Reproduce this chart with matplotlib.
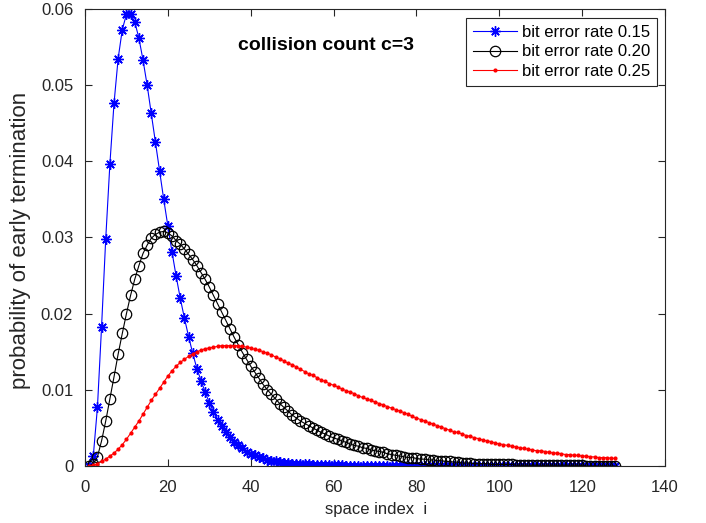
import numpy as np
import matplotlib
matplotlib.use("Agg")
import matplotlib.pyplot as plt

plt.rcParams['font.family'] = ['Liberation Sans', 'DejaVu Sans']

# space index i = 1..128
space_index = list(range(1, 129))

# bit error rate 0.15
ber_015 = [
    0.0000, 0.0013, 0.0077, 0.0183, 0.0298, 0.0396, 0.0476, 0.0535, 0.0573, 0.0593,
    0.0594, 0.0583, 0.0562, 0.0533, 0.0500, 0.0463, 0.0425, 0.0387, 0.0350, 0.0315,
    0.0281, 0.0249, 0.0220, 0.0194, 0.0170, 0.0148, 0.0128, 0.0112, 0.0097, 0.0083,
    0.0071, 0.0061, 0.0052, 0.0044, 0.0038, 0.0032, 0.0027, 0.0023, 0.0019, 0.0016,
    0.0014, 0.0012, 0.0010, 0.0008, 0.0007, 0.0006, 0.0005, 0.0004, 0.0004, 0.0003,
    0.0003, 0.0002, 0.0002, 0.0002, 0.0001, 0.0001, 0.0001, 0.0001, 0.0001, 0.0001,
    0.0001, 0.0001, 0.0000, 0.0000, 0.0000, 0.0000, 0.0000, 0.0000, 0.0000, 0.0000,
    0.0000, 0.0000, 0.0000, 0.0000, 0.0000, 0.0000, 0.0000, 0.0000, 0.0000, 0.0000,
    0.0000, 0.0000, 0.0000, 0.0000, 0.0000, 0.0000, 0.0000, 0.0000, 0.0000, 0.0000,
    0.0000, 0.0000, 0.0000, 0.0000, 0.0000, 0.0000, 0.0000, 0.0000, 0.0000, 0.0000,
    0.0000, 0.0000, 0.0000, 0.0000, 0.0000, 0.0000, 0.0000, 0.0000, 0.0000, 0.0000,
    0.0000, 0.0000, 0.0000, 0.0000, 0.0000, 0.0000, 0.0000, 0.0000, 0.0000, 0.0000,
    0.0000, 0.0000, 0.0000, 0.0000, 0.0000, 0.0000, 0.0000, 0.0000,
]

# bit error rate 0.20
ber_020 = [
    0.0000, 0.0003, 0.0012, 0.0033, 0.0059, 0.0088, 0.0117, 0.0147, 0.0174, 0.0200,
    0.0224, 0.0245, 0.0263, 0.0279, 0.0290, 0.0299, 0.0304, 0.0307, 0.0308, 0.0306,
    0.0302, 0.0296, 0.0291, 0.0285, 0.0278, 0.0271, 0.0263, 0.0254, 0.0245, 0.0235,
    0.0224, 0.0213, 0.0202, 0.0191, 0.0180, 0.0169, 0.0159, 0.0149, 0.0140, 0.0131,
    0.0123, 0.0115, 0.0107, 0.0100, 0.0094, 0.0088, 0.0082, 0.0077, 0.0072, 0.0067,
    0.0063, 0.0059, 0.0056, 0.0053, 0.0050, 0.0047, 0.0044, 0.0042, 0.0039, 0.0037,
    0.0035, 0.0033, 0.0031, 0.0029, 0.0027, 0.0026, 0.0024, 0.0023, 0.0021, 0.0020,
    0.0019, 0.0018, 0.0016, 0.0015, 0.0014, 0.0013, 0.0012, 0.0011, 0.0011, 0.0010,
    0.0009, 0.0009, 0.0008, 0.0008, 0.0007, 0.0007, 0.0006, 0.0006, 0.0005, 0.0005,
    0.0004, 0.0004, 0.0004, 0.0003, 0.0003, 0.0003, 0.0003, 0.0002, 0.0002, 0.0002,
    0.0002, 0.0002, 0.0002, 0.0001, 0.0001, 0.0001, 0.0001, 0.0001, 0.0001, 0.0001,
    0.0001, 0.0001, 0.0001, 0.0001, 0.0001, 0.0001, 0.0001, 0.0001, 0.0001, 0.0001,
    0.0000, 0.0000, 0.0000, 0.0000, 0.0000, 0.0000, 0.0000, 0.0000,
]

# bit error rate 0.25
ber_025 = [
    0.0000, 0.0001, 0.0003, 0.0006, 0.0009, 0.0013, 0.0017, 0.0022, 0.0028, 0.0035,
    0.0043, 0.0051, 0.0059, 0.0068, 0.0077, 0.0086, 0.0094, 0.0102, 0.0110, 0.0118,
    0.0125, 0.0131, 0.0136, 0.0140, 0.0144, 0.0147, 0.0150, 0.0152, 0.0154, 0.0155,
    0.0156, 0.0157, 0.0158, 0.0158, 0.0158, 0.0158, 0.0158, 0.0157, 0.0156, 0.0155,
    0.0153, 0.0152, 0.0150, 0.0148, 0.0146, 0.0143, 0.0141, 0.0138, 0.0135, 0.0133,
    0.0130, 0.0127, 0.0124, 0.0121, 0.0119, 0.0116, 0.0113, 0.0111, 0.0108, 0.0106,
    0.0104, 0.0101, 0.0099, 0.0097, 0.0095, 0.0092, 0.0090, 0.0088, 0.0086, 0.0084,
    0.0082, 0.0080, 0.0078, 0.0076, 0.0074, 0.0072, 0.0070, 0.0068, 0.0065, 0.0063,
    0.0061, 0.0059, 0.0057, 0.0055, 0.0053, 0.0051, 0.0049, 0.0047, 0.0045, 0.0044,
    0.0042, 0.0040, 0.0039, 0.0037, 0.0036, 0.0034, 0.0033, 0.0032, 0.0030, 0.0029,
    0.0028, 0.0027, 0.0026, 0.0025, 0.0024, 0.0023, 0.0022, 0.0021, 0.0020, 0.0020,
    0.0019, 0.0018, 0.0017, 0.0017, 0.0016, 0.0015, 0.0015, 0.0014, 0.0014, 0.0013,
    0.0013, 0.0012, 0.0012, 0.0011, 0.0011, 0.0011, 0.0010, 0.0010,
]

labels = ["bit error rate 0.15", "bit error rate 0.20", "bit error rate 0.25"]
x_ticks = [0, 20, 40, 60, 80, 100, 120, 140]
y_ticks = [0, 0.01, 0.02, 0.03, 0.04, 0.05, 0.06]
y_tick_labels = ["0", "0.01", "0.02", "0.03", "0.04", "0.05", "0.06"]

axis_grey = "#262626"

fig = plt.figure(figsize=(7.06, 5.23), dpi=100)
ax = fig.add_axes([0.1204, 0.109, 0.8216, 0.8738])

ax.plot(space_index, ber_015, color="blue", lw=0.8, marker=(8, 2, 0),
        ms=7.5, mew=1.0, mec="blue", label=labels[0])
ax.plot(space_index, ber_020, color="black", lw=0.8, marker="o",
        ms=7.5, mfc="none", mew=0.9, mec="black", label=labels[1])
ax.plot(space_index, ber_025, color="red", lw=0.8, marker="o",
        ms=3, mew=0, mfc="red", label=labels[2])

ax.set_xlim(0, 140)
ax.set_ylim(0, 0.06)
ax.set_xticks(x_ticks)
ax.set_yticks(y_ticks)
ax.set_yticklabels(y_tick_labels)
ax.tick_params(direction="in", top=True, right=True, length=5, width=0.8,
               labelsize=12, colors=axis_grey)
ax.tick_params(axis="x", pad=10)
ax.tick_params(axis="y", pad=8.5)
for sp in ax.spines.values():
    sp.set_color(axis_grey)
    sp.set_linewidth(0.8)

ax.set_xlabel("space index  i", fontsize=12, color=axis_grey)
ax.xaxis.set_label_coords(0.502, -0.079)
ax.set_ylabel("probability of early termination", fontsize=16, color=axis_grey)
ax.yaxis.set_label_coords(-0.093, 0.493)

ax.text(0.264, 0.921, "collision count c=3", transform=ax.transAxes,
        fontsize=14, fontweight="bold", ha="left", va="center", color="black")

leg = ax.legend(loc="upper right", bbox_to_anchor=(0.9857, 0.981), borderaxespad=0,
                fontsize=12, handlelength=2.6, fancybox=False, framealpha=1,
                edgecolor=axis_grey, labelspacing=0.28, borderpad=0.42,
                handletextpad=0.3)
leg.get_frame().set_linewidth(0.8)

fig.savefig("out.png", dpi=100)
